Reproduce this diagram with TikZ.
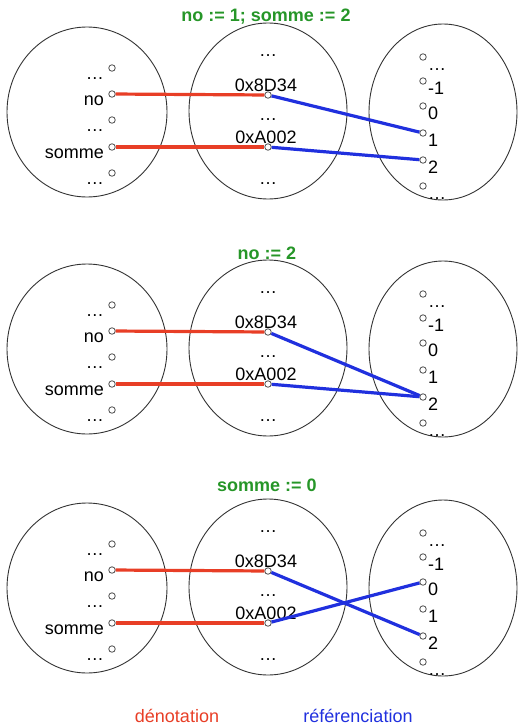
\documentclass[tikz,border=0pt]{standalone}
\usepackage{fontspec}
\setmainfont{Liberation Sans}
\definecolor{denred}{RGB}{232,62,38}
\definecolor{refblue}{RGB}{32,48,222}
\definecolor{opgreen}{RGB}{38,150,40}
\tikzset{
  pt/.style={circle, draw=black!70, fill=white, line width=0.8pt, inner sep=0pt, minimum size=6.5pt},
  ens/.style={draw=black!80, line width=0.9pt},
  denot/.style={denred, line width=3.2pt},
  refer/.style={refblue, line width=3.2pt},
  txt/.style={inner sep=0pt, font=\fontsize{18}{22}\selectfont},
  titre/.style={inner sep=0pt, text=opgreen, font=\fontsize{18}{22}\selectfont\bfseries},
}
\begin{document}
\begin{tikzpicture}[x=1pt, y=-1pt]
\useasboundingbox (0,0) rectangle (518,728);

% Titles of the three states
\node[titre, anchor=base] (t1) at (266,21.5) {no := 1; somme := 2};
\node[titre, anchor=base] (t2) at (267,259.5) {no := 2};
\node[titre, anchor=base] (t3) at (267,491.5) {somme := 0};

\foreach \p/\dy in {1/0, 2/237, 3/476} {
  % Drawing the three sets
  \draw[ens] (87,112+\dy) ellipse [x radius=80, y radius=85];
  \draw[ens] (268,111+\dy) ellipse [x radius=79, y radius=88];
  \draw[ens] (443,112+\dy) ellipse [x radius=74, y radius=88];

  % Marking names by circle
  \foreach \n/\y/\t in {na/68/…, no/94/no, nb/120/…, somme/147/somme, nc/173/…} {
    \node[pt] (\n\p) at (112,\y+\dy) {};
    \node[txt, anchor=base east] (l\n\p) at ([shift={(-8,11)}]\n\p.center) {\t};
  }

  % Marking addresses
  \node[txt, anchor=base] (ma\p) at (268,56+\dy) {…};
  \node[txt, anchor=base] (lA\p) at (266,91+\dy) {0x8D34};
  \node[pt] (adrA\p) at (268,95+\dy) {};
  \node[txt, anchor=base] (mb\p) at (268,120+\dy) {…};
  \node[txt, anchor=base] (lB\p) at (266,143+\dy) {0xA002};
  \node[pt] (adrB\p) at (268,147+\dy) {};
  \node[txt, anchor=base] (mc\p) at (268,184+\dy) {…};

  % Marking values by circle
  \foreach \n/\y/\t in {va/57/…, mone/81/-1, zero/106/0, one/133/1, two/160/2, vb/186/…} {
    \node[pt] (\n\p) at (423,\y+\dy) {};
    \node[txt, anchor=base west] (l\n\p) at ([shift={(5,13)}]\n\p.center) {\t};
  }

  % Drawing segments name -- address
  \draw[denot] (no\p) -- (adrA\p);
  \draw[denot] (somme\p) -- (adrB\p);
}

% Drawing segments address -- value
\draw[refer] (adrA1) -- (one1);
\draw[refer] (adrB1) -- (two1);
\draw[refer] (adrA2) -- (two2);
\draw[refer] (adrB2) -- (two2);
\draw[refer] (adrA3) -- (two3);
\draw[refer] (adrB3) -- (zero3);

% Legend
\node[txt, text=denred, anchor=base] (leg1) at (177,722) {dénotation};
\node[txt, text=refblue, anchor=base] (leg2) at (358,722) {référenciation};
\end{tikzpicture}
\end{document}
